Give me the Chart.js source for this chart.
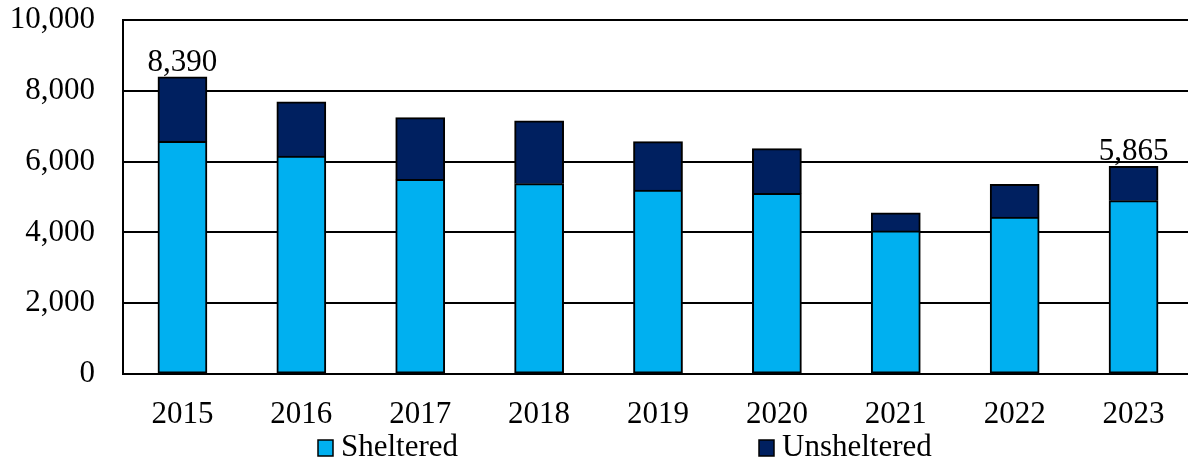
<!DOCTYPE html>
<html>
<head>
<meta charset="utf-8">
<script src="https://cdn.jsdelivr.net/npm/chart.js@4/dist/chart.umd.min.js"></script>
<style>
    html, body { margin: 0; padding: 0; background: #fff; overflow: hidden; }
    #wrap { width: 1200px; height: 464px; }
</style>
</head>
<body>
<div id="wrap"><canvas id="chart" width="1200" height="464"></canvas></div>
<script>
const years = ["2015", "2016", "2017", "2018", "2019", "2020", "2021", "2022", "2023"];
const sheltered = [6570, 6154, 5495, 5371, 5193, 5099, 4043, 4430, 4891];
const unsheltered = [1820, 1527, 1742, 1773, 1366, 1262, 508, 924, 974];
const yTicks = [0, 2000, 4000, 6000, 8000, 10000];
const labeledBars = [0, 8];   // only first and last year get a total label

const FONT = "'Liberation Serif', 'Times New Roman', serif";

// Total labels above selected bars
const totalLabels = {
    id: "totalLabels",
    afterDatasetsDraw(chart) {
        const ctx = chart.ctx;
        const top = chart.getDatasetMeta(1);
        ctx.save();
        ctx.font = "31px " + FONT;
        ctx.fillStyle = "#000";
        ctx.textAlign = "center";
        ctx.textBaseline = "alphabetic";
        labeledBars.forEach(i => {
            const bar = top.data[i];
            const total = sheltered[i] + unsheltered[i];
            ctx.fillText(total.toLocaleString("en-US"), bar.x, bar.y - 6);
        });
        ctx.restore();
    }
};

// Spread-out legend under the axis
const spreadLegend = {
    id: "spreadLegend",
    afterDraw(chart) {
        const ctx = chart.ctx;
        const xs = [318, 759];
        const y = chart.chartArea.bottom + 74;
        ctx.save();
        ctx.font = "31px " + FONT;
        ctx.textBaseline = "middle";
        ctx.textAlign = "left";
        chart.data.datasets.forEach((ds, i) => {
            ctx.fillStyle = ds.backgroundColor;
            ctx.fillRect(xs[i], y - 8, 15, 16);
            ctx.lineWidth = 1.5;
            ctx.strokeStyle = "#000";
            ctx.strokeRect(xs[i], y - 8, 15, 16);
            ctx.fillStyle = "#000";
            ctx.fillText(ds.label, xs[i] + 23, y);
        });
        ctx.restore();
    }
};

new Chart(document.getElementById("chart"), {
    type: "bar",
    data: {
        labels: years,
        datasets: [
            {
                label: "Sheltered",
                data: sheltered,
                backgroundColor: "#00B0F0",
                borderColor: "#000",
                borderWidth: 2,
                borderSkipped: false,
                inflateAmount: 0.5
            },
            {
                label: "Unsheltered",
                data: unsheltered,
                backgroundColor: "#002060",
                borderColor: "#000",
                borderWidth: 2,
                borderSkipped: "bottom",
                inflateAmount: 0.5
            }
        ]
    },
    options: {
        responsive: false,
        animation: false,
        layout: { padding: { top: 20, right: 7, left: 0, bottom: 0 } },
        datasets: { bar: { categoryPercentage: 1, barPercentage: 0.41 } },
        plugins: {
            legend: { display: false },
            tooltip: { enabled: false }
        },
        scales: {
            x: {
                stacked: true,
                grid: { display: false, drawTicks: false },
                border: { display: true, color: "#000", width: 2 },
                ticks: { color: "#000", font: { family: FONT, size: 31 }, padding: 22, maxRotation: 0 },
                afterFit(scale) { scale.height = 90; scale.paddingLeft = 0; scale.paddingRight = 0; }
            },
            y: {
                stacked: true,
                min: 0,
                max: 10000,
                afterBuildTicks(scale) { scale.ticks = yTicks.map(v => ({ value: v })); },
                grid: { color: "#000", lineWidth: 2, drawTicks: false },
                border: { display: true, color: "#000", width: 2 },
                ticks: {
                    color: "#000",
                    font: { family: FONT, size: 31 },
                    padding: 28,
                    callback: v => v.toLocaleString("en-US")
                },
                afterFit(scale) { scale.width = 123; scale.paddingTop = 0; scale.paddingBottom = 0; }
            }
        }
    },
    plugins: [totalLabels, spreadLegend]
});
</script>
</body>
</html>
